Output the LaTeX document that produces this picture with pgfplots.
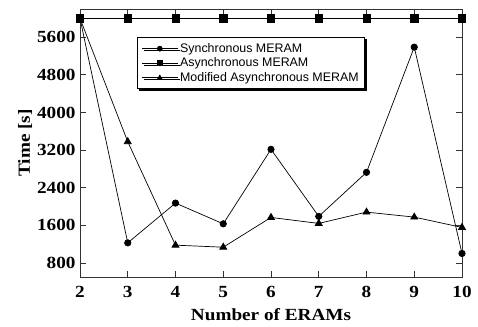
\documentclass[border=0pt]{standalone}
\usepackage{fontspec}
\setmainfont{Liberation Serif}
\newfontfamily\tickfont[FakeStretch=1.13]{Liberation Serif}
\newfontfamily\legfont{Liberation Sans}
\newcommand\tf[1]{{\tickfont\bfseries\fontsize{17}{18}\selectfont #1}}
\usepackage{pgfplots}
\pgfplotsset{compat=1.18}
\usetikzlibrary{shadows,calc}
\begin{document}
\begin{tikzpicture}
\begin{axis}[
  scale only axis,
  width=382pt, height=268pt,
  xmin=2, xmax=10, ymin=500, ymax=6200,
  xtick={2,3,4,5,6,7,8,9,10},
  xticklabels={\tf{2},\tf{3},\tf{4},\tf{5},\tf{6},\tf{7},\tf{8},\tf{9},\tf{10}},
  ytick={800,1600,2400,3200,4000,4800,5600},
  yticklabels={\tf{800},\tf{1600},\tf{2400},\tf{3200},\tf{4000},\tf{4800},\tf{5600}},
  tick align=inside,
  major tick length=6pt,
  axis line style={line width=0.9pt, black!80},
  every tick/.style={black!80, line width=0.7pt},
  xticklabel style={yshift=-5.5pt},
  yticklabel style={xshift=-1pt},
  xlabel={Number of ERAMs},
  ylabel={Time [s]},
  label style={font=\tickfont\bfseries\fontsize{17}{18}\selectfont},
  xlabel style={yshift=-4pt},
  ylabel style={yshift=-2pt},
  legend cell align=left,
  legend image code/.code={\draw[mark repeat=2,mark phase=2,#1] plot coordinates {(0pt,0pt) (18pt,0pt) (36pt,0pt)};},
  legend style={at={(0.149,0.896)}, anchor=north west, draw=black, line width=1.1pt,
    font=\legfont\fontsize{12.4}{15}\selectfont, inner xsep=4pt, inner ysep=4pt,
    row sep=0pt,
    drop shadow={shadow xshift=2pt, shadow yshift=-2pt, opacity=1, fill=black}},
  legend image post style={line width=0.7pt, mark size=2.5pt},
  every axis plot/.append style={line width=0.7pt, black},
]
\addplot[mark=*, mark size=3.2pt] coordinates {
(2,6000)(3,1226)(4,2072)(5,1631)(6,3216)(7,1789)(8,2726)(9,5389)(10,1000)};
\addlegendentry{Synchronous MERAM}
\addplot[mark=square*, mark size=3.6pt] coordinates {
(2,6000)(3,6000)(4,6000)(5,6000)(6,6000)(7,6000)(8,6000)(9,6000)(10,6000)};
\addlegendentry{Asynchronous MERAM}
\addplot[mark=triangle*, mark size=4pt] coordinates {
(2,6000)(3,3378)(4,1177)(5,1134)(6,1767)(7,1640)(8,1880)(9,1774)(10,1554)};
\addlegendentry{Modified Asynchronous MERAM}
\end{axis}
\pgfresetboundingbox
\path[use as bounding box] ($(current axis.south west)+(-80pt,-49pt)$) rectangle ($(current axis.north east)+(16pt,9pt)$);
\end{tikzpicture}
\end{document}
